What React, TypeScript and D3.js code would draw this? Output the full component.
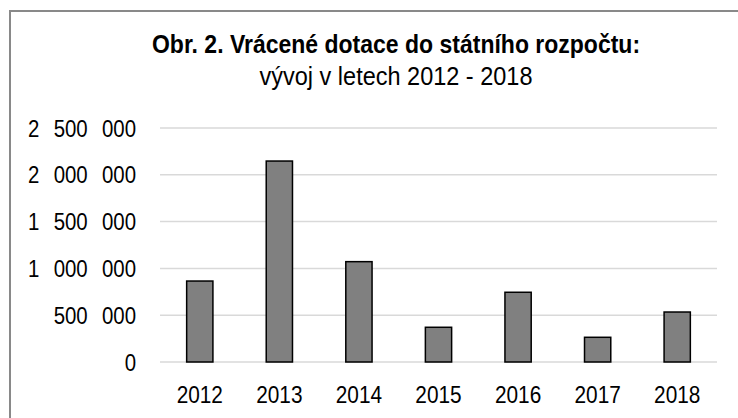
import React from "react";
import * as d3 from "d3";

const years = ["2012", "2013", "2014", "2015", "2016", "2017", "2018"];
const values = [865000, 2147000, 1072000, 371000, 745000, 264000, 534000];
const yTicks = [0, 500000, 1000000, 1500000, 2000000, 2500000];

const W = 738;
const H = 418;
// no Arial Narrow installed: squeeze Liberation Sans horizontally instead
const FONT = "'Liberation Sans', Arial, sans-serif";

function fmt(v: number) {
    return d3.format(",")(v).replace(/,/g, "\u2002\u2009");
}

function Narrow({x, y, anchor, size, bold, sx, children}: any) {
    return (
        <text transform={`translate(${x},${y}) scale(${sx},1)`}
            textAnchor={anchor}
            fontFamily={FONT}
            fontSize={size}
            fontWeight={bold ? "bold" : "normal"}
            fill="#000">
            {children}
        </text>
    );
}

export default function App() {
    const x = d3.scaleBand()
        .domain(years)
        .range([160, 717])
        .paddingInner(0.67)
        .paddingOuter(0.335);

    const y = d3.scaleLinear()
        .domain([0, 2500000])
        .range([362, 128]);

    return (
        <svg width={W} height={H} style={{position: "absolute", left: 0, top: 0}}>
            <rect x={0} y={0} width={W} height={H} fill="white" />
            <rect x={10} y={11} width={775} height={460} fill="white" stroke="#898989" strokeWidth={2} />

            <Narrow x={396} y={53} anchor="middle" size={25} sx={0.92} bold>
                Obr. 2. Vrácené dotace do státního rozpočtu:
            </Narrow>
            <Narrow x={396} y={85} anchor="middle" size={25} sx={0.94}>
                vývoj v letech 2012 - 2018
            </Narrow>

            <g>
                {yTicks.map(t => (
                    <line key={t} x1={160} x2={717} y1={y(t)} y2={y(t)} stroke="#d9d9d9" strokeWidth={1.5} />
                ))}
            </g>

            <g>
                {years.map((yr, i) => (
                    <rect key={yr}
                        x={x(yr)}
                        y={y(values[i])}
                        width={x.bandwidth()}
                        height={y(0) - y(values[i])}
                        fill="#808080"
                        stroke="#000"
                        strokeWidth={1.5} />
                ))}
            </g>

            {yTicks.map(t => (
                <Narrow key={t} x={136} y={y(t) + 8.5} anchor="end" size={24} sx={0.85}>{fmt(t)}</Narrow>
            ))}
            {years.map(yr => (
                <Narrow key={yr} x={(x(yr) as number) + x.bandwidth() / 2} y={403} anchor="middle" size={24.5} sx={0.85}>{yr}</Narrow>
            ))}
        </svg>
    );
}
